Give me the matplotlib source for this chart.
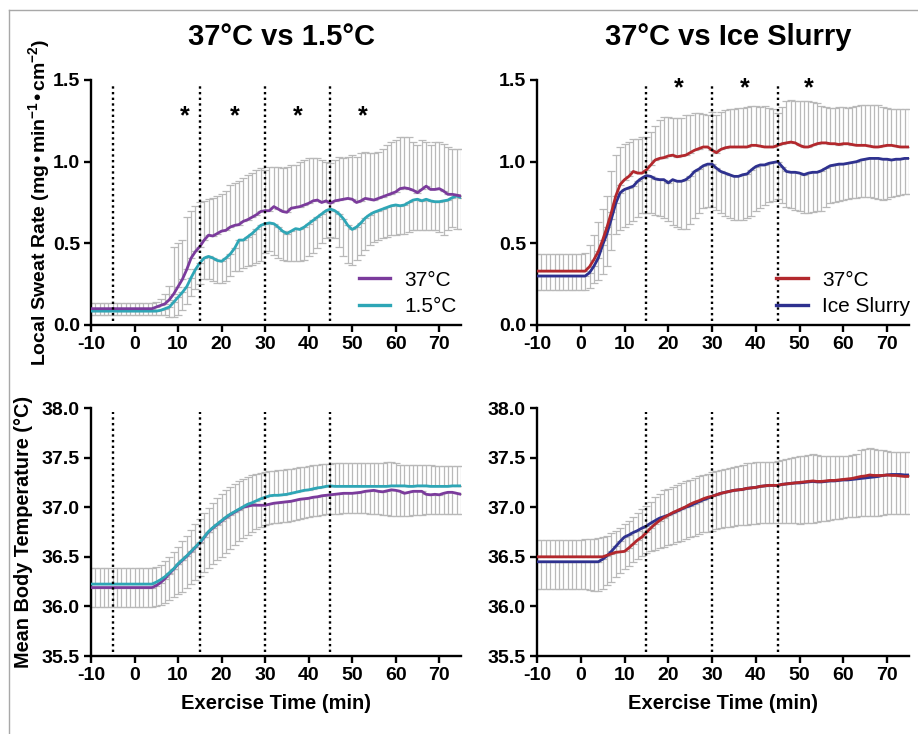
import matplotlib
matplotlib.use('Agg')
import matplotlib.pyplot as plt
from matplotlib.lines import Line2D
import numpy as np

plt.rcParams['font.family'] = ['Liberation Sans', 'DejaVu Sans']
plt.rcParams['mathtext.default'] = 'regular'
plt.rcParams['axes.unicode_minus'] = False

# time axis, one sample per minute
minutes = list(range(-10, 76))

# --- local sweat rate, 37C vs 1.5C (top left) ---
sweat_37_a = [
    0.10, 0.10, 0.10, 0.10, 0.10, 0.10, 0.10, 0.10, 0.10, 0.10,
    0.10, 0.10, 0.10, 0.10, 0.10, 0.11, 0.12, 0.13, 0.155, 0.19,
    0.235, 0.28, 0.34, 0.41, 0.45, 0.48, 0.52, 0.55, 0.545, 0.56,
    0.575, 0.58, 0.60, 0.61, 0.615, 0.635, 0.645, 0.66, 0.675, 0.695,
    0.70, 0.70, 0.725, 0.71, 0.695, 0.69, 0.715, 0.72, 0.725, 0.735,
    0.745, 0.76, 0.765, 0.75, 0.76, 0.745, 0.76, 0.765, 0.77, 0.775,
    0.77, 0.75, 0.76, 0.775, 0.77, 0.765, 0.775, 0.785, 0.795, 0.805,
    0.815, 0.835, 0.84, 0.835, 0.825, 0.81, 0.83, 0.85, 0.83, 0.83,
    0.835, 0.82, 0.80, 0.80, 0.795, 0.79]
sweat_37_a_hi = [
    0.135, 0.135, 0.135, 0.135, 0.135, 0.135, 0.135, 0.135, 0.135, 0.135,
    0.135, 0.135, 0.135, 0.135, 0.135, 0.14, 0.16, 0.19, 0.24, 0.48,
    0.50, 0.52, 0.66, 0.70, 0.73, 0.75, 0.76, 0.77, 0.78, 0.79,
    0.80, 0.82, 0.86, 0.87, 0.88, 0.90, 0.92, 0.93, 0.95, 0.96,
    0.95, 0.97, 0.97, 0.97, 0.96, 0.97, 0.98, 0.98, 1.00, 1.01,
    1.02, 1.02, 1.02, 1.01, 1.00, 0.99, 1.01, 1.03, 1.02, 1.03,
    1.04, 1.03, 1.05, 1.06, 1.05, 1.05, 1.06, 1.08, 1.10, 1.12,
    1.13, 1.15, 1.15, 1.15, 1.12, 1.10, 1.13, 1.12, 1.10, 1.12,
    1.12, 1.11, 1.09, 1.08, 1.08, 1.08]
sweat_15 = [
    0.085, 0.085, 0.085, 0.085, 0.085, 0.085, 0.085, 0.085, 0.085, 0.085,
    0.085, 0.085, 0.085, 0.085, 0.085, 0.085, 0.09, 0.10, 0.11, 0.14,
    0.17, 0.20, 0.235, 0.29, 0.34, 0.38, 0.41, 0.42, 0.41, 0.395,
    0.39, 0.41, 0.435, 0.47, 0.52, 0.52, 0.54, 0.56, 0.585, 0.61,
    0.62, 0.625, 0.62, 0.60, 0.575, 0.56, 0.575, 0.59, 0.585, 0.60,
    0.62, 0.64, 0.66, 0.68, 0.70, 0.71, 0.70, 0.68, 0.65, 0.61,
    0.585, 0.60, 0.625, 0.655, 0.675, 0.69, 0.70, 0.71, 0.72, 0.73,
    0.735, 0.73, 0.735, 0.75, 0.765, 0.77, 0.76, 0.77, 0.76, 0.755,
    0.755, 0.76, 0.765, 0.78, 0.79, 0.78]
sweat_15_lo = [
    0.06, 0.06, 0.06, 0.06, 0.06, 0.06, 0.06, 0.06, 0.06, 0.06,
    0.06, 0.06, 0.06, 0.06, 0.06, 0.06, 0.06, 0.06, 0.05, 0.05,
    0.06, 0.09, 0.13, 0.18, 0.22, 0.25, 0.28, 0.28, 0.27, 0.26,
    0.26, 0.27, 0.30, 0.33, 0.33, 0.35, 0.36, 0.37, 0.38, 0.39,
    0.44, 0.45, 0.43, 0.41, 0.40, 0.39, 0.39, 0.39, 0.39, 0.40,
    0.42, 0.44, 0.47, 0.50, 0.53, 0.54, 0.53, 0.48, 0.42, 0.38,
    0.37, 0.40, 0.43, 0.46, 0.49, 0.51, 0.52, 0.53, 0.54, 0.55,
    0.55, 0.56, 0.56, 0.57, 0.58, 0.58, 0.58, 0.58, 0.58, 0.58,
    0.57, 0.55, 0.58, 0.60, 0.59, 0.59]

# --- local sweat rate, 37C vs ice slurry (top right) ---
sweat_37_b = [
    0.33, 0.33, 0.33, 0.33, 0.33, 0.33, 0.33, 0.33, 0.33, 0.33,
    0.33, 0.33, 0.357, 0.40, 0.45, 0.52, 0.60, 0.69, 0.79, 0.86,
    0.89, 0.91, 0.94, 0.93, 0.93, 0.95, 0.98, 1.01, 1.02, 1.025,
    1.035, 1.04, 1.03, 1.035, 1.04, 1.055, 1.07, 1.08, 1.09, 1.09,
    1.07, 1.055, 1.075, 1.085, 1.09, 1.09, 1.09, 1.09, 1.09, 1.10,
    1.10, 1.095, 1.09, 1.09, 1.09, 1.10, 1.11, 1.115, 1.12, 1.115,
    1.10, 1.09, 1.09, 1.10, 1.11, 1.115, 1.115, 1.11, 1.11, 1.105,
    1.11, 1.11, 1.105, 1.10, 1.10, 1.10, 1.095, 1.09, 1.09, 1.095,
    1.10, 1.10, 1.095, 1.09, 1.09, 1.09]
sweat_37_b_hi = [
    0.435, 0.435, 0.435, 0.435, 0.435, 0.435, 0.435, 0.435, 0.435, 0.435,
    0.435, 0.44, 0.49, 0.55, 0.63, 0.71, 0.79, 0.94, 1.04, 1.09,
    1.11, 1.12, 1.14, 1.14, 1.15, 1.15, 1.18, 1.22, 1.255, 1.275,
    1.275, 1.27, 1.265, 1.27, 1.285, 1.285, 1.295, 1.30, 1.29, 1.285,
    1.305, 1.285, 1.305, 1.315, 1.325, 1.325, 1.33, 1.33, 1.335, 1.34,
    1.34, 1.335, 1.34, 1.33, 1.32, 1.295, 1.335, 1.37, 1.375, 1.37,
    1.37, 1.37, 1.37, 1.365, 1.36, 1.34, 1.335, 1.33, 1.33, 1.335,
    1.335, 1.33, 1.335, 1.34, 1.345, 1.35, 1.35, 1.35, 1.345, 1.335,
    1.33, 1.325, 1.325, 1.32, 1.32, 1.325]
sweat_ice = [
    0.30, 0.30, 0.30, 0.30, 0.30, 0.30, 0.30, 0.30, 0.30, 0.30,
    0.30, 0.30, 0.32, 0.36, 0.41, 0.49, 0.56, 0.65, 0.745, 0.81,
    0.83, 0.84, 0.85, 0.88, 0.90, 0.915, 0.91, 0.895, 0.89, 0.89,
    0.87, 0.89, 0.88, 0.88, 0.89, 0.91, 0.94, 0.955, 0.975, 0.985,
    0.985, 0.96, 0.94, 0.93, 0.92, 0.91, 0.91, 0.92, 0.925, 0.95,
    0.97, 0.98, 0.98, 0.99, 0.995, 1.00, 0.97, 0.94, 0.935, 0.935,
    0.93, 0.92, 0.93, 0.935, 0.935, 0.945, 0.96, 0.975, 0.98, 0.985,
    0.985, 0.99, 0.995, 1.00, 1.01, 1.015, 1.02, 1.02, 1.02, 1.015,
    1.015, 1.01, 1.015, 1.015, 1.02, 1.02]
sweat_ice_lo = [
    0.215, 0.215, 0.215, 0.215, 0.215, 0.215, 0.215, 0.215, 0.215, 0.215,
    0.215, 0.215, 0.225, 0.255, 0.275, 0.315, 0.36, 0.46, 0.56, 0.58,
    0.60, 0.62, 0.635, 0.66, 0.685, 0.685, 0.685, 0.675, 0.665, 0.655,
    0.635, 0.61, 0.60, 0.59, 0.59, 0.62, 0.655, 0.685, 0.715, 0.725,
    0.725, 0.705, 0.685, 0.67, 0.655, 0.645, 0.64, 0.645, 0.655, 0.665,
    0.695, 0.715, 0.735, 0.75, 0.76, 0.77, 0.745, 0.725, 0.715, 0.705,
    0.695, 0.685, 0.685, 0.69, 0.695, 0.70, 0.725, 0.745, 0.755, 0.76,
    0.765, 0.77, 0.775, 0.78, 0.785, 0.785, 0.785, 0.78, 0.77, 0.765,
    0.77, 0.785, 0.79, 0.795, 0.80, 0.80]

# --- mean body temperature, 37C vs 1.5C (bottom left) ---
temp_37_a = [
    36.19, 36.19, 36.19, 36.19, 36.19, 36.19, 36.19, 36.19, 36.19, 36.19,
    36.19, 36.19, 36.19, 36.19, 36.19, 36.21, 36.24, 36.28, 36.33, 36.375,
    36.425, 36.465, 36.505, 36.55, 36.595, 36.64, 36.695, 36.75, 36.79, 36.825,
    36.86, 36.895, 36.925, 36.95, 36.975, 37.00, 37.01, 37.02, 37.02, 37.02,
    37.02, 37.03, 37.04, 37.045, 37.05, 37.055, 37.06, 37.07, 37.08, 37.085,
    37.09, 37.10, 37.105, 37.115, 37.12, 37.125, 37.13, 37.135, 37.14, 37.14,
    37.14, 37.145, 37.15, 37.16, 37.165, 37.17, 37.16, 37.155, 37.165, 37.175,
    37.17, 37.16, 37.14, 37.15, 37.16, 37.16, 37.16, 37.13, 37.125, 37.13,
    37.125, 37.14, 37.15, 37.15, 37.14, 37.13]
temp_37_a_lo = [
    35.99, 35.99, 35.99, 35.99, 35.99, 35.99, 35.99, 35.99, 35.99, 35.99,
    35.99, 35.99, 35.99, 35.99, 35.99, 36.00, 36.01, 36.03, 36.06, 36.09,
    36.12, 36.15, 36.19, 36.23, 36.27, 36.31, 36.35, 36.39, 36.43, 36.47,
    36.50, 36.54, 36.58, 36.62, 36.66, 36.69, 36.72, 36.75, 36.78, 36.80,
    36.82, 36.83, 36.84, 36.84, 36.85, 36.855, 36.86, 36.87, 36.88, 36.89,
    36.90, 36.91, 36.915, 36.92, 36.93, 36.93, 36.935, 36.935, 36.94, 36.94,
    36.94, 36.94, 36.94, 36.94, 36.935, 36.935, 36.93, 36.925, 36.92, 36.915,
    36.91, 36.91, 36.91, 36.915, 36.92, 36.92, 36.925, 36.93, 36.93, 36.93,
    36.93, 36.93, 36.93, 36.93, 36.93, 36.93]
temp_15 = [
    36.225, 36.225, 36.225, 36.225, 36.225, 36.225, 36.225, 36.225, 36.225, 36.225,
    36.225, 36.225, 36.225, 36.225, 36.225, 36.245, 36.27, 36.30, 36.34, 36.38,
    36.43, 36.47, 36.51, 36.555, 36.60, 36.645, 36.70, 36.755, 36.795, 36.83,
    36.865, 36.90, 36.93, 36.955, 36.98, 37.005, 37.03, 37.045, 37.065, 37.085,
    37.10, 37.115, 37.12, 37.12, 37.125, 37.13, 37.14, 37.15, 37.16, 37.17,
    37.175, 37.185, 37.195, 37.20, 37.21, 37.215, 37.21, 37.21, 37.21, 37.21,
    37.21, 37.21, 37.21, 37.21, 37.21, 37.21, 37.21, 37.21, 37.21, 37.215,
    37.215, 37.215, 37.215, 37.21, 37.21, 37.215, 37.215, 37.215, 37.21, 37.21,
    37.21, 37.21, 37.21, 37.215, 37.215, 37.215]
temp_15_hi = [
    36.385, 36.385, 36.385, 36.385, 36.385, 36.385, 36.385, 36.385, 36.385, 36.385,
    36.385, 36.385, 36.385, 36.385, 36.385, 36.40, 36.42, 36.46, 36.50, 36.55,
    36.60, 36.66, 36.71, 36.77, 36.83, 36.88, 36.94, 36.99, 37.04, 37.09,
    37.13, 37.17, 37.20, 37.23, 37.26, 37.28, 37.30, 37.32, 37.33, 37.34,
    37.355, 37.36, 37.365, 37.37, 37.38, 37.385, 37.39, 37.40, 37.405, 37.41,
    37.42, 37.425, 37.43, 37.435, 37.44, 37.44, 37.45, 37.45, 37.45, 37.45,
    37.45, 37.45, 37.45, 37.45, 37.45, 37.45, 37.45, 37.45, 37.46, 37.46,
    37.45, 37.43, 37.43, 37.43, 37.43, 37.43, 37.43, 37.43, 37.43, 37.42,
    37.42, 37.42, 37.42, 37.42, 37.42, 37.42]

# --- mean body temperature, 37C vs ice slurry (bottom right) ---
temp_37_b = [
    36.50, 36.50, 36.50, 36.50, 36.50, 36.50, 36.50, 36.50, 36.50, 36.50,
    36.50, 36.50, 36.50, 36.50, 36.50, 36.50, 36.515, 36.53, 36.545, 36.55,
    36.555, 36.59, 36.63, 36.67, 36.70, 36.745, 36.79, 36.83, 36.865, 36.895,
    36.92, 36.945, 36.965, 36.985, 37.005, 37.03, 37.05, 37.065, 37.085, 37.10,
    37.11, 37.125, 37.14, 37.15, 37.16, 37.17, 37.175, 37.18, 37.19, 37.195,
    37.20, 37.21, 37.215, 37.22, 37.22, 37.22, 37.23, 37.235, 37.24, 37.245,
    37.25, 37.255, 37.26, 37.265, 37.26, 37.26, 37.265, 37.27, 37.27, 37.275,
    37.28, 37.285, 37.29, 37.30, 37.31, 37.315, 37.325, 37.32, 37.32, 37.32,
    37.325, 37.32, 37.32, 37.315, 37.31, 37.31]
temp_37_b_hi = [
    36.67, 36.67, 36.67, 36.67, 36.67, 36.67, 36.67, 36.67, 36.67, 36.67,
    36.67, 36.68, 36.68, 36.68, 36.685, 36.70, 36.71, 36.74, 36.76, 36.795,
    36.83, 36.86, 36.905, 36.945, 36.98, 37.015, 37.055, 37.10, 37.135, 37.17,
    37.18, 37.20, 37.225, 37.24, 37.26, 37.275, 37.29, 37.31, 37.325, 37.335,
    37.35, 37.36, 37.375, 37.39, 37.40, 37.41, 37.42, 37.43, 37.445, 37.45,
    37.455, 37.46, 37.46, 37.46, 37.46, 37.47, 37.475, 37.49, 37.50, 37.51,
    37.515, 37.515, 37.53, 37.535, 37.525, 37.52, 37.52, 37.52, 37.52, 37.52,
    37.52, 37.52, 37.525, 37.535, 37.575, 37.585, 37.595, 37.59, 37.58, 37.575,
    37.57, 37.56, 37.56, 37.56, 37.555, 37.555]
temp_ice = [
    36.45, 36.45, 36.45, 36.45, 36.45, 36.45, 36.45, 36.45, 36.45, 36.45,
    36.45, 36.45, 36.45, 36.45, 36.45, 36.475, 36.51, 36.555, 36.605, 36.655,
    36.70, 36.72, 36.745, 36.765, 36.79, 36.81, 36.84, 36.865, 36.89, 36.905,
    36.92, 36.94, 36.96, 36.98, 37.00, 37.015, 37.035, 37.055, 37.075, 37.09,
    37.11, 37.125, 37.14, 37.15, 37.16, 37.17, 37.175, 37.18, 37.19, 37.195,
    37.20, 37.21, 37.215, 37.22, 37.22, 37.22, 37.23, 37.235, 37.24, 37.245,
    37.245, 37.25, 37.255, 37.26, 37.255, 37.255, 37.26, 37.265, 37.265, 37.27,
    37.275, 37.275, 37.28, 37.285, 37.29, 37.295, 37.30, 37.305, 37.31, 37.32,
    37.325, 37.33, 37.33, 37.33, 37.325, 37.325]
temp_ice_lo = [
    36.18, 36.18, 36.18, 36.18, 36.18, 36.18, 36.18, 36.18, 36.18, 36.18,
    36.18, 36.18, 36.17, 36.16, 36.16, 36.175, 36.22, 36.25, 36.295, 36.335,
    36.375, 36.41, 36.445, 36.48, 36.51, 36.535, 36.555, 36.57, 36.585, 36.60,
    36.615, 36.63, 36.645, 36.66, 36.68, 36.695, 36.71, 36.73, 36.745, 36.755,
    36.765, 36.78, 36.79, 36.80, 36.805, 36.81, 36.82, 36.82, 36.825, 36.83,
    36.83, 36.84, 36.84, 36.84, 36.84, 36.84, 36.845, 36.84, 36.84, 36.84,
    36.835, 36.84, 36.84, 36.845, 36.855, 36.86, 36.865, 36.87, 36.88, 36.88,
    36.89, 36.90, 36.905, 36.905, 36.91, 36.915, 36.915, 36.915, 36.915, 36.92,
    36.93, 36.93, 36.93, 36.93, 36.93, 36.93]

titles = ['37°C vs 1.5°C', '37°C vs Ice Slurry']
labels_left = ['37°C', '1.5°C']
labels_right = ['37°C', 'Ice Slurry']

purple = '#7b3b9c'
cyan = '#2ea6b6'
red = '#b3282d'
navy = '#2e318f'
grey = '#b9b9b9'

t = np.array(minutes)

fig = plt.figure(figsize=(9.18, 7.34), dpi=100)
W, H = 918, 734


def add_axes(x0, y_top, x1, y_bot):
    return fig.add_axes([x0 / W, 1 - y_bot / H, (x1 - x0) / W, (y_bot - y_top) / H])


ax_tl = add_axes(91, 80, 461, 325)
ax_tr = add_axes(537, 80, 909, 325)
ax_bl = add_axes(91, 408, 461, 656)
ax_br = add_axes(537, 408, 909, 656)


def draw_pair(ax, up_mean, up_hi, up_col, dn_mean, dn_lo, dn_col):
    # upper series gets its error bar upwards, lower series downwards
    up_mean = np.array(up_mean)
    dn_mean = np.array(dn_mean)
    up_err = np.array(up_hi) - up_mean
    dn_err = dn_mean - np.array(dn_lo)
    zeros = np.zeros_like(up_mean)
    ax.errorbar(t, up_mean, yerr=[zeros, up_err], fmt='none', ecolor=grey,
                elinewidth=0.9, capsize=3, capthick=0.9, zorder=1)
    ax.errorbar(t, dn_mean, yerr=[dn_err, zeros], fmt='none', ecolor=grey,
                elinewidth=0.9, capsize=3, capthick=0.9, zorder=1)
    ax.plot(t, dn_mean, color=dn_col, lw=2, zorder=3)
    ax.plot(t, up_mean, color=up_col, lw=2, zorder=4)


draw_pair(ax_tl, sweat_37_a, sweat_37_a_hi, purple, sweat_15, sweat_15_lo, cyan)
draw_pair(ax_tr, sweat_37_b, sweat_37_b_hi, red, sweat_ice, sweat_ice_lo, navy)
draw_pair(ax_bl, temp_15, temp_15_hi, cyan, temp_37_a, temp_37_a_lo, purple)
draw_pair(ax_br, temp_37_b, temp_37_b_hi, red, temp_ice, temp_ice_lo, navy)

dots = (0, (1, 1.4))
for ax, marks in [(ax_tl, [-5, 15, 30, 45]), (ax_tr, [15, 30, 45]),
                  (ax_bl, [-5, 15, 30, 45]), (ax_br, [15, 30, 45])]:
    for m in marks:
        ax.axvline(m, ymin=0.015, ymax=0.985, color='black', lw=1.7,
                   linestyle=dots, zorder=5)

for ax in [ax_tl, ax_tr, ax_bl, ax_br]:
    ax.set_xlim(-10, 75)
    ax.set_xticks([-10, 0, 10, 20, 30, 40, 50, 60, 70])
    for side in ['top', 'right']:
        ax.spines[side].set_visible(False)
    for side in ['left', 'bottom']:
        ax.spines[side].set_linewidth(1.7)
    ax.tick_params(direction='out', length=5, width=1.7, labelsize=14, pad=3)
    for lab in ax.get_xticklabels() + ax.get_yticklabels():
        lab.set_fontweight('bold')
    ax.patch.set_alpha(0)

for ax in [ax_tl, ax_tr]:
    ax.set_ylim(0, 1.5)
    ax.set_yticks([0, 0.5, 1.0, 1.5])
    ax.set_yticklabels(['0.0', '0.5', '1.0', '1.5'], fontweight='bold')
for ax in [ax_bl, ax_br]:
    ax.set_ylim(35.5, 38.0)
    ax.set_yticks([35.5, 36.0, 36.5, 37.0, 37.5, 38.0])
    ax.set_yticklabels(['35.5', '36.0', '36.5', '37.0', '37.5', '38.0'], fontweight='bold')
    ax.set_xlabel('Exercise Time (min)', fontsize=14.5, fontweight='bold', labelpad=7)

ax_tl.set_ylabel('Local Sweat Rate (mg•min$^{-1}$•cm$^{-2}$)', fontsize=14,
                 fontweight='bold')
ax_tl.yaxis.set_label_coords(-0.105, 0.5)
ax_bl.set_ylabel('Mean Body Temperature (°C)', fontsize=14.3, fontweight='bold')
ax_bl.yaxis.set_label_coords(-0.158, 0.5)

# significance stars
for x in [11.5, 23, 37.5, 52.5]:
    ax_tl.text(x, 1.28, '*', ha='center', va='center', fontsize=18, fontweight='bold')
for x in [22.5, 37.5, 52]:
    ax_tr.text(x, 1.45, '*', ha='center', va='center', fontsize=18, fontweight='bold')

# legends
h_tl = [Line2D([], [], color=purple, lw=2.4), Line2D([], [], color=cyan, lw=2.4)]
ax_tl.legend(h_tl, labels_left, loc='lower right', bbox_to_anchor=(1.0, 0.02),
             frameon=False, fontsize=15, handlelength=1.5, handletextpad=0.7,
             labelspacing=0.35, borderaxespad=0, borderpad=0.2)
h_tr = [Line2D([], [], color=red, lw=2.4), Line2D([], [], color=navy, lw=2.4)]
ax_tr.legend(h_tr, labels_right, loc='lower right', bbox_to_anchor=(1.015, 0.02),
             frameon=False, fontsize=15, handlelength=1.5, handletextpad=0.7,
             labelspacing=0.35, borderaxespad=0, borderpad=0.2)

# panel titles
fig.text(281 / W, 1 - 37 / H, titles[0], ha='center', va='center',
         fontsize=21, fontweight='bold')
fig.text(728 / W, 1 - 37 / H, titles[1], ha='center', va='center',
         fontsize=21, fontweight='bold')

# thin grey frame at the top and left edge of the picture
fig.add_artist(Line2D([9 / W, 1], [1 - 10 / H, 1 - 10 / H], color='#a8a8a8', lw=1))
fig.add_artist(Line2D([9 / W, 9 / W], [0, 1 - 10 / H], color='#a8a8a8', lw=1))

fig.savefig('out.png', dpi=100)
